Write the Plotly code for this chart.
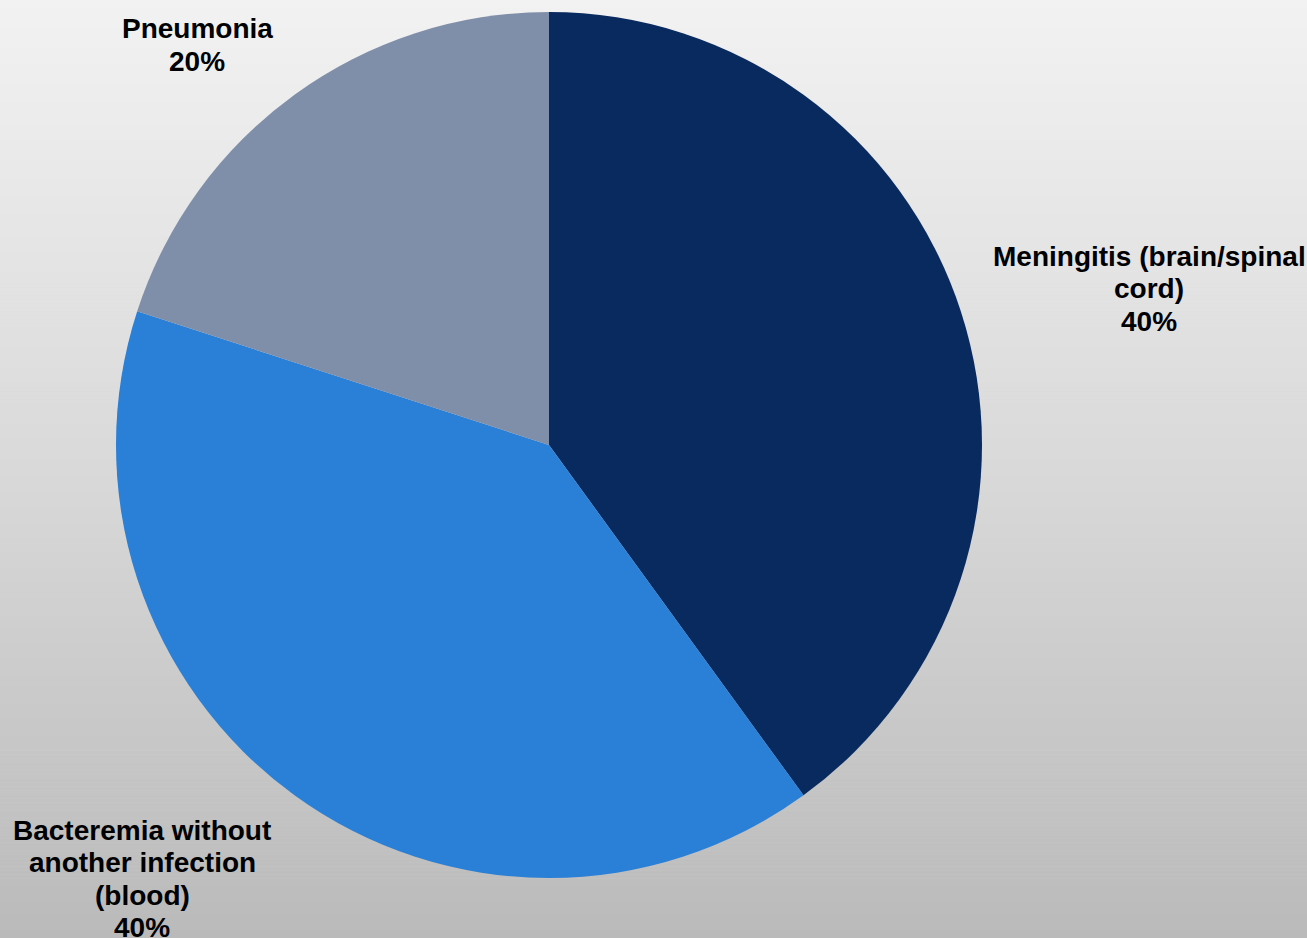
import plotly.graph_objects as go

# Share of cases by infection type
categories = [
    "Meningitis (brain/spinal cord)",
    "Bacteremia without another infection (blood)",
    "Pneumonia",
]
values = [40, 40, 20]
# Wrapped label text for each category
label_lines = [
    ["Meningitis (brain/spinal", "cord)"],
    ["Bacteremia without", "another infection", "(blood)"],
    ["Pneumonia"],
]

slice_colors = ["#092a5f", "#2a7fd6", "#7f8ea9"]

W, H = 1307, 938
total = sum(values)

fig = go.Figure(
    go.Pie(
        labels=categories,
        values=values,
        sort=False,
        direction="clockwise",
        rotation=0,
        textinfo="none",
        marker=dict(colors=slice_colors, line=dict(width=0)),
        showlegend=False,
        domain=dict(x=[116 / W, 982 / W], y=[60 / H, 926 / H]),
    )
)

# Vertical grey gradient behind the chart
n_strips = 235
def grey_at(t):
    if t < 0.5:
        v = 242 + (217 - 242) * (t / 0.5)
    else:
        v = 217 + (186 - 217) * ((t - 0.5) / 0.5)
    return int(round(v))

shapes = []
for i in range(n_strips):
    t0 = i / n_strips
    t1 = (i + 1) / n_strips
    g = grey_at((t0 + t1) / 2)
    shapes.append(
        dict(
            type="rect", xref="paper", yref="paper",
            x0=0, x1=1, y0=1 - t1 - 0.0005, y1=1 - t0,
            fillcolor=f"rgb({g},{g},{g})", line=dict(width=0), layer="below",
        )
    )

# Label placement (pixel centre of first line) and line pitch
label_anchor = [(1149, 256), (142, 830), (197, 29)]
line_pitch = 32.5

annotations = []
for lines, val, (ax, ay) in zip(label_lines, values, label_anchor):
    pct = f"{round(100 * val / total)}%"
    for k, txt in enumerate(lines + [pct]):
        yp = ay + k * line_pitch
        annotations.append(
            dict(
                text=txt, xref="paper", yref="paper",
                x=ax / W, y=1 - yp / H,
                xanchor="center", yanchor="middle", showarrow=False,
                font=dict(family="Liberation Sans, Arial, sans-serif", size=28,
                          color="#000000", weight="bold"),
            )
        )

fig.update_layout(
    width=W, height=H,
    margin=dict(l=0, r=0, t=0, b=0),
    paper_bgcolor="#d9d9d9",
    plot_bgcolor="rgba(0,0,0,0)",
    shapes=shapes,
    annotations=annotations,
)

fig.write_html("out.html")
